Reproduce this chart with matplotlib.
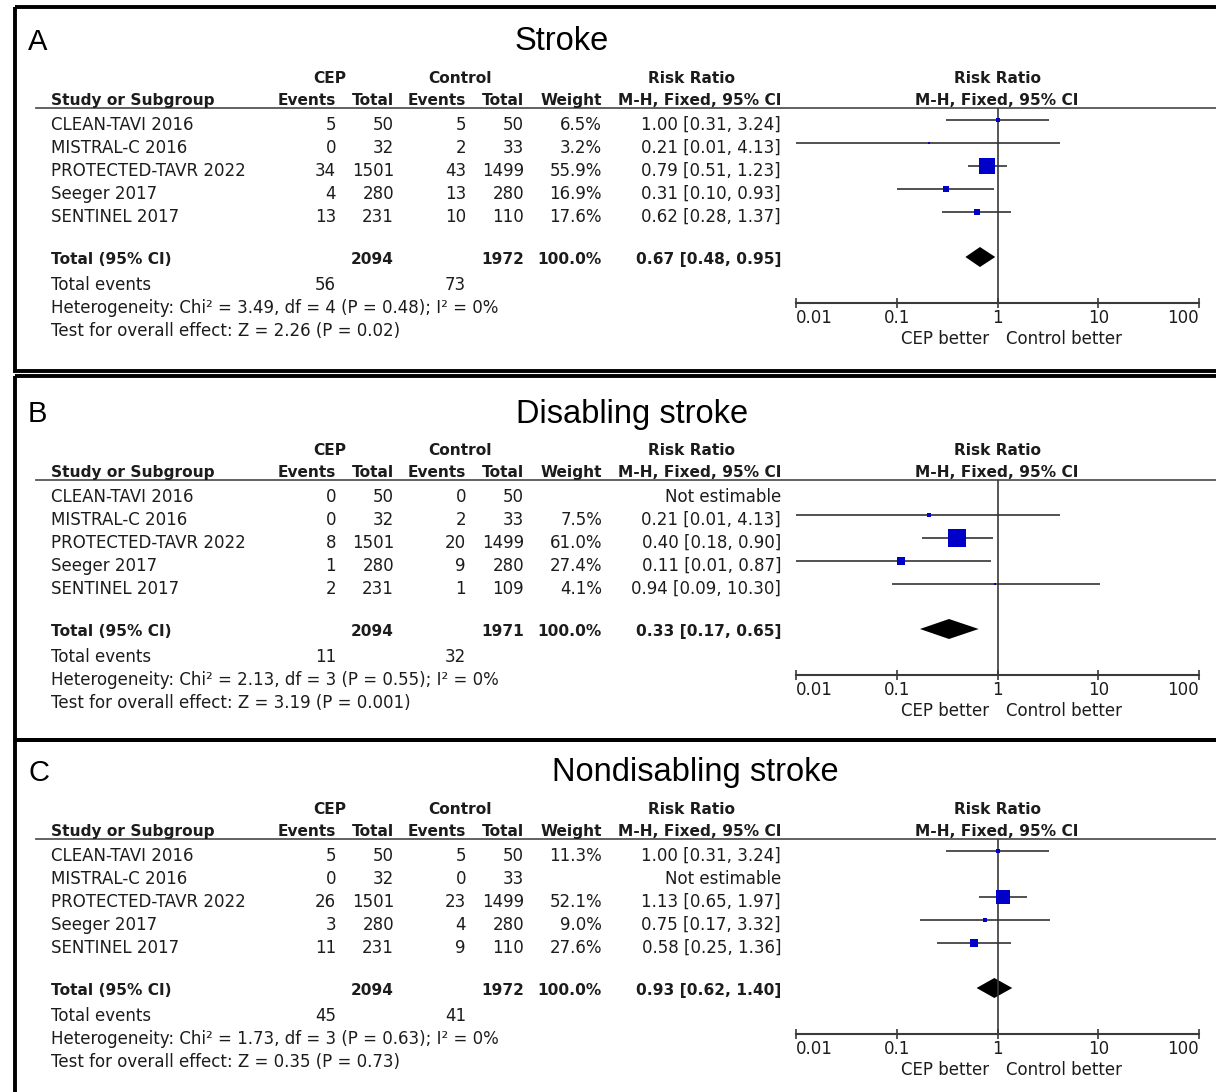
import matplotlib.pyplot as plt
from matplotlib.patches import Rectangle
from matplotlib.ticker import NullLocator

W, H = 1216, 1092

# ---------------------------------------------------------------------------
# Data

studies = ["CLEAN-TAVI 2016", "MISTRAL-C 2016", "PROTECTED-TAVR 2022",
           "Seeger 2017", "SENTINEL 2017"]

# A: stroke
stroke_cep_events = [5, 0, 34, 4, 13]
stroke_cep_total = [50, 32, 1501, 280, 231]
stroke_ctl_events = [5, 2, 43, 13, 10]
stroke_ctl_total = [50, 33, 1499, 280, 110]
stroke_weight = [6.5, 3.2, 55.9, 16.9, 17.6]
stroke_rr = [1.00, 0.21, 0.79, 0.31, 0.62]
stroke_lo = [0.31, 0.01, 0.51, 0.10, 0.28]
stroke_hi = [3.24, 4.13, 1.23, 0.93, 1.37]
stroke_pooled = [0.67, 0.48, 0.95]
stroke_totals = [2094, 1972, 56, 73]
stroke_het = ["3.49", "4", "0.48", "0%"]
stroke_test = ["2.26", "0.02"]

# B: disabling stroke
dis_cep_events = [0, 0, 8, 1, 2]
dis_cep_total = [50, 32, 1501, 280, 231]
dis_ctl_events = [0, 2, 20, 9, 1]
dis_ctl_total = [50, 33, 1499, 280, 109]
dis_weight = [None, 7.5, 61.0, 27.4, 4.1]
dis_rr = [None, 0.21, 0.40, 0.11, 0.94]
dis_lo = [None, 0.01, 0.18, 0.01, 0.09]
dis_hi = [None, 4.13, 0.90, 0.87, 10.30]
dis_pooled = [0.33, 0.17, 0.65]
dis_totals = [2094, 1971, 11, 32]
dis_het = ["2.13", "3", "0.55", "0%"]
dis_test = ["3.19", "0.001"]

# C: nondisabling stroke
nondis_cep_events = [5, 0, 26, 3, 11]
nondis_cep_total = [50, 32, 1501, 280, 231]
nondis_ctl_events = [5, 0, 23, 4, 9]
nondis_ctl_total = [50, 33, 1499, 280, 110]
nondis_weight = [11.3, None, 52.1, 9.0, 27.6]
nondis_rr = [1.00, None, 1.13, 0.75, 0.58]
nondis_lo = [0.31, None, 0.65, 0.17, 0.25]
nondis_hi = [3.24, None, 1.97, 3.32, 1.36]
nondis_pooled = [0.93, 0.62, 1.40]
nondis_totals = [2094, 1972, 45, 41]
nondis_het = ["1.73", "3", "0.63", "0%"]
nondis_test = ["0.35", "0.73"]

axis_ticks = [0.01, 0.1, 1, 10, 100]
axis_labels = ["0.01", "0.1", "1", "10", "100"]

panels = [
    dict(letter="A", title="Stroke", title_x=562, off=0, top=7,
         cep_e=stroke_cep_events, cep_t=stroke_cep_total,
         ctl_e=stroke_ctl_events, ctl_t=stroke_ctl_total,
         w=stroke_weight, rr=stroke_rr, lo=stroke_lo, hi=stroke_hi,
         pooled=stroke_pooled, totals=stroke_totals,
         het=stroke_het, test=stroke_test),
    dict(letter="B", title="Disabling stroke", title_x=632, off=372, top=376,
         cep_e=dis_cep_events, cep_t=dis_cep_total,
         ctl_e=dis_ctl_events, ctl_t=dis_ctl_total,
         w=dis_weight, rr=dis_rr, lo=dis_lo, hi=dis_hi,
         pooled=dis_pooled, totals=dis_totals,
         het=dis_het, test=dis_test),
    dict(letter="C", title="Nondisabling stroke", title_x=695, off=731, top=740,
         cep_e=nondis_cep_events, cep_t=nondis_cep_total,
         ctl_e=nondis_ctl_events, ctl_t=nondis_ctl_total,
         w=nondis_weight, rr=nondis_rr, lo=nondis_lo, hi=nondis_hi,
         pooled=nondis_pooled, totals=nondis_totals,
         het=nondis_het, test=nondis_test),
]

# ---------------------------------------------------------------------------
# Layout (pixels, y measured from the top of panel A)

FS = 12
FS_BOLD = 11.1
TXT = "#1c1c1c"
TFONT = "DejaVu Sans"
HFONT = "Liberation Sans"

COL_CEP_E, COL_CEP_T = 336, 394
COL_CTL_E, COL_CTL_T = 466, 524
COL_W, COL_RR = 602, 781
X_STUDY = 51
PLOT_L, PLOT_R = 796, 1199
X_ONE = 997

Y_GROUP, Y_HEAD, Y_RULE = 77, 99, 108
Y_ROW0, DY_ROW = 124, 23
Y_TOTAL, Y_TEVENTS, Y_HET, Y_TEST = 258, 284, 307, 330
Y_AXIS, Y_BETTER = 303, 338
BASE = 6   # cap centre -> baseline

fig = plt.figure(figsize=(W / 100, H / 100), dpi=100)
bg = fig.add_axes([0, 0, 1, 1])
bg.set_xlim(0, W)
bg.set_ylim(H, 0)
bg.axis("off")


def txt(x, y, s, ha="left", bold=False):
    bg.text(x, y + BASE, s, ha=ha, va="baseline",
            fontsize=FS_BOLD if bold else FS,
            fontweight="bold" if bold else "normal", family=TFONT, color=TXT)


for p in panels:
    o = p["off"]
    # panel frame
    bg.add_patch(Rectangle((15, p["top"]), 1240, 364 if p["letter"] != "C" else 400,
                           fill=False, lw=2.8, ec="black", clip_on=False))
    bg.text(28, 42 + o, p["letter"], fontsize=21, family=HFONT, va="center", ha="left")
    bg.text(p["title_x"], 42 + o, p["title"], fontsize=23.5, family=HFONT,
            va="center", ha="center")

    # column headers
    txt(330, Y_GROUP + o, "CEP", ha="center", bold=True)
    txt(460, Y_GROUP + o, "Control", ha="center", bold=True)
    txt(692, Y_GROUP + o, "Risk Ratio", ha="center", bold=True)
    txt(X_ONE, Y_GROUP + o, "Risk Ratio", ha="center", bold=True)
    txt(X_STUDY, Y_HEAD + o, "Study or Subgroup", bold=True)
    txt(COL_CEP_E, Y_HEAD + o, "Events", ha="right", bold=True)
    txt(COL_CEP_T, Y_HEAD + o, "Total", ha="right", bold=True)
    txt(COL_CTL_E, Y_HEAD + o, "Events", ha="right", bold=True)
    txt(COL_CTL_T, Y_HEAD + o, "Total", ha="right", bold=True)
    txt(COL_W, Y_HEAD + o, "Weight", ha="right", bold=True)
    txt(COL_RR, Y_HEAD + o, "M-H, Fixed, 95% CI", ha="right", bold=True)
    txt(X_ONE, Y_HEAD + o, "M-H, Fixed, 95% CI", ha="center", bold=True)
    bg.plot([36, W], [Y_RULE + o, Y_RULE + o], color="#555555", lw=1.3)

    # study rows
    for i, name in enumerate(studies):
        y = Y_ROW0 + i * DY_ROW + o
        txt(X_STUDY, y, name)
        txt(COL_CEP_E, y, str(p["cep_e"][i]), ha="right")
        txt(COL_CEP_T, y, str(p["cep_t"][i]), ha="right")
        txt(COL_CTL_E, y, str(p["ctl_e"][i]), ha="right")
        txt(COL_CTL_T, y, str(p["ctl_t"][i]), ha="right")
        if p["rr"][i] is None:
            txt(COL_RR, y, "Not estimable", ha="right")
        else:
            txt(COL_W, y, f"{p['w'][i]:.1f}%", ha="right")
            txt(COL_RR, y, f"{p['rr'][i]:.2f} [{p['lo'][i]:.2f}, {p['hi'][i]:.2f}]",
                ha="right")

    # pooled row and summary text
    est, plo, phi = p["pooled"]
    n_cep, n_ctl, ev_cep, ev_ctl = p["totals"]
    txt(X_STUDY, Y_TOTAL + o, "Total (95% CI)", bold=True)
    txt(COL_CEP_T, Y_TOTAL + o, str(n_cep), ha="right", bold=True)
    txt(COL_CTL_T, Y_TOTAL + o, str(n_ctl), ha="right", bold=True)
    txt(COL_W, Y_TOTAL + o, "100.0%", ha="right", bold=True)
    txt(COL_RR, Y_TOTAL + o, f"{est:.2f} [{plo:.2f}, {phi:.2f}]", ha="right", bold=True)
    txt(X_STUDY, Y_TEVENTS + o, "Total events")
    txt(COL_CEP_E, Y_TEVENTS + o, str(ev_cep), ha="right")
    txt(COL_CTL_E, Y_TEVENTS + o, str(ev_ctl), ha="right")
    chi, df, ph, i2 = p["het"]
    txt(X_STUDY, Y_HET + o,
        f"Heterogeneity: Chi\u00b2 = {chi}, df = {df} (P = {ph}); I\u00b2 = {i2}")
    z, pz = p["test"]
    txt(X_STUDY, Y_TEST + o, f"Test for overall effect: Z = {z} (P = {pz})")
    txt(X_ONE - 8, Y_BETTER + o, "CEP better", ha="right")
    txt(X_ONE + 9, Y_BETTER + o, "Control better", ha="left")

    # forest plot on a log risk-ratio scale
    top_px, bot_px = Y_RULE + o, Y_AXIS + o
    ax = fig.add_axes([PLOT_L / W, 1 - bot_px / H,
                       (PLOT_R - PLOT_L) / W, (bot_px - top_px) / H])
    ax.set_facecolor("none")
    ax.set_xscale("log")
    ax.set_xlim(0.01, 100)
    ax.set_ylim(bot_px, top_px)
    for s in ("top", "left", "right"):
        ax.spines[s].set_visible(False)
    ax.spines["bottom"].set_color("#3a3a3a")
    ax.spines["bottom"].set_linewidth(1.5)
    ax.set_yticks([])
    ax.xaxis.set_minor_locator(NullLocator())
    ax.set_xticks(axis_ticks, axis_labels)
    ax.tick_params(axis="x", direction="inout", length=7, width=1.2,
                   color="#3a3a3a", labelsize=FS, pad=1, labelcolor=TXT)
    for lab, ha in zip(ax.get_xticklabels(),
                       ["left", "center", "center", "center", "right"]):
        lab.set_ha(ha)
        lab.set_family(TFONT)
    ax.axvline(1, color="#3a3a3a", lw=1.2)

    for i in range(len(studies)):
        if p["rr"][i] is None:
            continue
        y = Y_ROW0 + i * DY_ROW + o - 4
        ax.plot([p["lo"][i], p["hi"][i]], [y, y], color="#333333", lw=1.2,
                solid_capstyle="butt", clip_on=False)
        side = 1.8 + 0.25 * p["w"][i]
        ax.plot(p["rr"][i], y, marker="s", ms=side * 0.72, mfc="#0000c8",
                mec="#0000c8", mew=0, clip_on=False)

    yd = Y_TOTAL + o - 1
    ax.fill([plo, est, phi, est], [yd, yd - 10, yd, yd + 10], color="black",
            lw=0, clip_on=False)

fig.savefig("out.png", dpi=100)
